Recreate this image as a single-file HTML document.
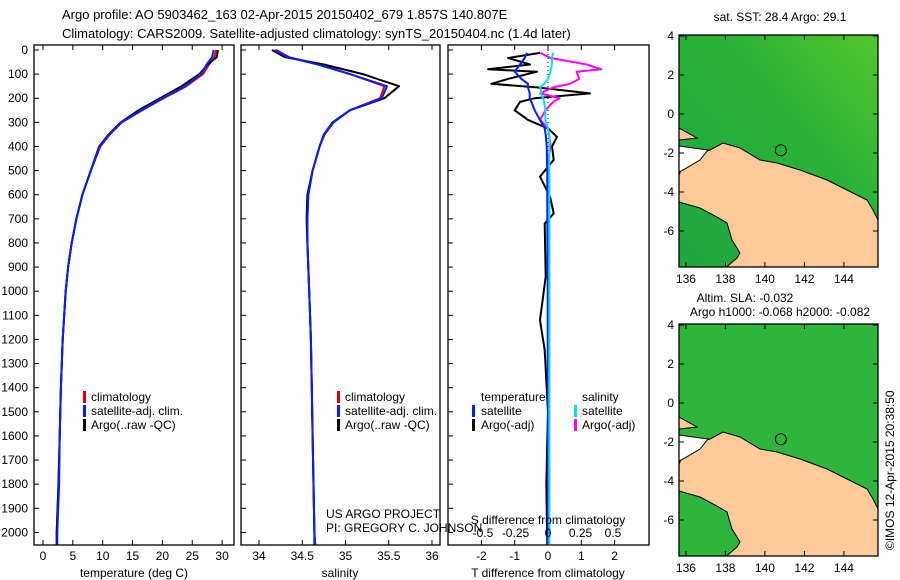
<!DOCTYPE html>
<html><head><meta charset="utf-8"><style>
body{margin:0;background:#fff;}
svg{display:block;font-family:"Liberation Sans",sans-serif;font-size:12px;}
</style></head><body>
<svg id="s" width="900" height="580" viewBox="0 0 900 580">
<text x="62" y="19" font-size="13">Argo profile: AO 5903462_163 02-Apr-2015 20150402_679 1.857S 140.807E</text>
<text x="62" y="38" font-size="13">Climatology: CARS2009. Satellite-adjusted climatology: synTS_20150404.nc (1.4d later)</text>
<g id="p1"></g>
<g id="p2"></g>
<g id="p3"></g>
<text x="326" y="518">US ARGO PROJECT</text>
<text x="326" y="532">PI: GREGORY C. JOHNSON</text>
<defs>
<linearGradient id="g1" x1="0" y1="1" x2="1" y2="0"><stop offset="0" stop-color="#1ea83e"/><stop offset="0.6" stop-color="#2ab238"/><stop offset="1" stop-color="#52c52a"/></linearGradient>
<clipPath id="c1"><rect x="679" y="35" width="199" height="232"/></clipPath>
<clipPath id="c2"><rect x="679" y="324" width="199" height="232"/></clipPath>
</defs>
<text x="780" y="21" text-anchor="middle">sat. SST: 28.4 Argo: 29.1</text>
<text x="745" y="302" text-anchor="middle">Altim. SLA: -0.032</text>
<text x="780" y="316" text-anchor="middle">Argo h1000: -0.068 h2000: -0.082</text>
<g id="m1"></g>
<g id="m2"></g>
<text transform="translate(894,550) rotate(-90)" font-size="12">©IMOS 12-Apr-2015 20:38:50</text>
</svg>
<script>
// ---- data ----
const depthTicks=[0,100,200,300,400,500,600,700,800,900,1000,1100,1200,1300,1400,1500,1600,1700,1800,1900,2000];
const tempTicks=[0,5,10,15,20,25,30];
const salTicks=[34,34.5,35,35.5,36];
const tdTicks=[-2,-1,0,1,2];
const sdTicks=[-0.5,-0.25,0,0.25,0.5];
const profDepth=[0,30,60,100,150,200,250,300,350,400,500,600,700,800,900,1000,1200,1400,1600,1800,2000,2050];
const tempArgo=[29.3,29.1,27.6,26.2,23.2,19.6,16.0,13.0,11.0,9.4,8.0,6.6,5.6,4.8,4.2,3.8,3.3,3.0,2.8,2.6,2.3,2.3];
const tempClim=[29.0,28.7,27.8,26.8,24.0,20.2,16.6,13.2,11.2,9.6,8.0,6.6,5.6,4.8,4.2,3.8,3.3,3.0,2.8,2.6,2.3,2.3];
const tempSat=[28.6,28.3,27.4,26.5,23.8,20.0,16.5,13.1,11.1,9.5,8.0,6.6,5.6,4.8,4.2,3.8,3.3,3.0,2.8,2.7,2.4,2.4];
const salArgo=[34.15,34.3,34.75,35.2,35.62,35.45,35.05,34.85,34.75,34.7,34.62,34.56,34.55,34.56,34.57,34.58,34.6,34.61,34.62,34.63,34.64,34.64];
const salClim=[34.2,34.35,34.7,35.05,35.45,35.4,35.05,34.86,34.76,34.7,34.62,34.57,34.56,34.56,34.57,34.58,34.6,34.61,34.62,34.63,34.64,34.65];
const salSat=[34.18,34.33,34.68,35.05,35.48,35.42,35.05,34.86,34.75,34.7,34.62,34.57,34.56,34.56,34.57,34.58,34.6,34.61,34.62,34.63,34.64,34.65];
const diffDepth=[12,33,60,80,90,120,140,155,180,200,215,250,290,325,360,400,455,525,608,677,720,940,1120,1245,1500,1800,2050];
const tdArgo=[-0.24,-1.2,-0.54,-1.8,-0.33,-1.2,-1.7,-0.33,1.26,-0.4,-0.84,-1.0,-0.6,0,0.27,0.12,0.17,-0.24,0.06,0.17,-0.1,-0.07,-0.24,-0.1,0,-0.05,-0.02];
const tdSat=[-0.63,-0.7,-0.84,-0.95,-1.0,-0.8,-0.6,-0.6,-0.55,-0.55,-0.5,-0.4,-0.24,-0.1,-0.06,-0.04,-0.03,-0.02,-0.02,-0.02,-0.02,-0.01,-0.01,-0.01,0,0,0];
const sdArgo=[-0.06,0.02,0.3,0.41,0.22,0.24,0.17,0.04,-0.06,0.09,0.04,-0.02,-0.06,0,0.01,0.02,0.0,0.01,0.01,0.01,0.01,0.01,0.01,0.01,0.01,0.01,0.01];
const sdSat=[0.04,0.03,0.03,0.02,0.02,0.0,-0.03,-0.06,-0.05,-0.04,-0.03,-0.02,-0.02,0.0,0.01,0.01,0.01,0.01,0.01,0.01,0.01,0.01,0.01,0.01,0.01,0.01,0.01];
const lonTicks=[136,138,140,142,144];
const latTicks=[4,2,0,-2,-4,-6];
// ---- helpers ----
const NS="http://www.w3.org/2000/svg";
function el(p,t,a){const e=document.createElementNS(NS,t);for(const k in a)e.setAttribute(k,a[k]);p.appendChild(e);return e;}
const yD=d=>50+d*0.2412;
const xT=v=>43+v*5.97;
const xS=v=>259+(v-34)*86.5;
const xTD=v=>548+v*33.3;
const xSD=v=>548+v*130;
function frame(g,x0,x1,ticks,xf,labels,withDepth){
  const r=el(g,'rect',{x:x0,y:45,width:x1-x0,height:500,fill:'none',stroke:'#000','stroke-width':1.3});
  
  
  depthTicks.forEach(d=>{el(g,'line',{x1:x0,x2:x0+5,y1:yD(d),y2:yD(d),stroke:'#000'});
    if(withDepth){const t=el(g,'text',{x:28,y:yD(d)+4,'text-anchor':'end'});t.textContent=d;
      
      }});
  ticks.forEach(v=>{el(g,'line',{x1:xf(v),x2:xf(v),y1:545,y2:540,stroke:'#000'});el(g,'line',{x1:xf(v),x2:xf(v),y1:45,y2:50,stroke:'#000'});
    if(labels){const t=el(g,'text',{x:xf(v),y:560,'text-anchor':'middle'});t.textContent=v;
      
      }});
}
function line(g,xs,ds,xf,col,w,name){
  const pts=xs.map((v,i)=>xf(v).toFixed(1)+','+yD(ds[i]).toFixed(1)).join(' ');
  const p=el(g,'polyline',{points:pts,fill:'none',stroke:col,'stroke-width':w,'stroke-linejoin':'round'});
  
  
}
function txt(g,x,y,s,name,anchor){const t=el(g,'text',{x:x,y:y,'text-anchor':anchor||'start'});t.textContent=s;
  
  return t;}
function mark(g,x,y,col){el(g,'rect',{x:x,y:y-10,width:3,height:12,fill:col});}
// panel 1
const p1=document.getElementById('p1');
frame(p1,34,234,tempTicks,xT,true,true);
line(p1,tempClim,profDepth,xT,'#e00000',2,'temp-climatology-line');
line(p1,tempArgo,profDepth,xT,'#000',2,'temp-argo-line');
line(p1,tempSat,profDepth,xT,'#0020ff',2,'temp-satellite-line');
txt(p1,134,577,'temperature (deg C)','temp-axis-title','middle');
[['climatology','#e00000'],['satellite-adj. clim.','#0020ff'],['Argo(..raw -QC)','#000']].forEach((l,i)=>{mark(p1,83,401+i*14,l[1]);txt(p1,91,401+i*14,l[0],'legend-entry');});
// panel 2
const p2=document.getElementById('p2');
frame(p2,241,440,salTicks,xS,true,false);
line(p2,salClim,profDepth,xS,'#e00000',2,'sal-climatology-line');
line(p2,salArgo,profDepth,xS,'#000',2,'sal-argo-line');
line(p2,salSat,profDepth,xS,'#0020ff',2,'sal-satellite-line');
txt(p2,340,577,'salinity','sal-axis-title','middle');
[['climatology','#e00000'],['satellite-adj. clim.','#0020ff'],['Argo(..raw -QC)','#000']].forEach((l,i)=>{mark(p2,337,401+i*14,l[1]);txt(p2,345,401+i*14,l[0],'legend-entry');});
// panel 3
const p3=document.getElementById('p3');
frame(p3,448,649,tdTicks,xTD,true,false);
el(p3,'line',{x1:548,x2:548,y1:50,y2:545,stroke:'#000','stroke-dasharray':'1,3'});
line(p3,tdArgo,diffDepth,xTD,'#000',2,'tdiff-argo-line');
line(p3,sdArgo,diffDepth,xSD,'#ff00ff',2,'sdiff-argo-line');
line(p3,tdSat,diffDepth,xTD,'#0020ff',2,'tdiff-satellite-line');
line(p3,sdSat,diffDepth,xSD,'#00e0f0',2,'sdiff-satellite-line');
sdTicks.forEach(v=>{txt(p3,xSD(v),537,v,'s-tick-label','middle');});
txt(p3,548,524,'S difference from climatology','sdiff-axis-title','middle');
txt(p3,548,577,'T difference from climatology','tdiff-axis-title','middle');
txt(p3,481,401,'temperature','legend-heading');
txt(p3,582,401,'salinity','legend-heading');
mark(p3,472,415,'#0020ff');txt(p3,481,415,'satellite','legend-entry');
mark(p3,472,429,'#000');txt(p3,481,429,'Argo(-adj)','legend-entry');
mark(p3,574,415,'#00e0f0');txt(p3,582,415,'satellite','legend-entry');
mark(p3,574,429,'#ff00ff');txt(p3,582,429,'Argo(-adj)','legend-entry');
// maps
const xL=lon=>679+(lon-135.65)*19.75;
function map(g,dy,fill,clip){
  const c=el(g,'g',{'clip-path':'url(#'+clip+')'});
  el(c,'rect',{x:679,y:35+dy,width:199,height:232,fill:fill});
  const land=el(c,'polygon',{transform:'translate(0,'+dy+')',fill:'#fdca98',stroke:'#000','stroke-width':1,
    points:'679,175 687,157 710,150 723,143 740,148 760,160 777,163 800,170 827,180 847,190 867,200 873,210 878,220 880,270 723,270 737,258 740,253 732,240 727,223 717,217 700,208 679,202'});
  
  
  el(c,'polygon',{transform:'translate(0,'+dy+')',fill:'#fdca98',stroke:'#000',points:'679,128 697,138 679,140'});
  el(c,'polygon',{transform:'translate(0,'+dy+')',fill:'#fff',stroke:'#000',points:'679,146 708,150 700,160 683,170 679,172'});
  const f=el(g,'rect',{x:679,y:35+dy,width:199,height:232,fill:'none',stroke:'#000','stroke-width':1.3});
  
  
  const o=el(g,'circle',{cx:xL(140.807),cy:114+dy+1.857*19.5,r:5.5,fill:'none',stroke:'#000'});
  
  
  lonTicks.forEach(v=>{el(g,'line',{x1:xL(v),x2:xL(v),y1:267+dy,y2:262+dy,stroke:'#000'});el(g,'line',{x1:xL(v),x2:xL(v),y1:35+dy,y2:40+dy,stroke:'#000'});
    txt(g,xL(v),283+dy,v,'lon-tick-label','middle');});
  latTicks.forEach(v=>{const y=114+dy-v*19.5;el(g,'line',{x1:679,x2:684,y1:y,y2:y,stroke:'#000'});el(g,'line',{x1:873,x2:878,y1:y,y2:y,stroke:'#000'});
    txt(g,674,y+4,v,'lat-tick-label','end');});
}
map(document.getElementById('m1'),0,'url(#g1)','c1');
map(document.getElementById('m2'),289,'#2fb43c','c2');
</script>
</body></html>
